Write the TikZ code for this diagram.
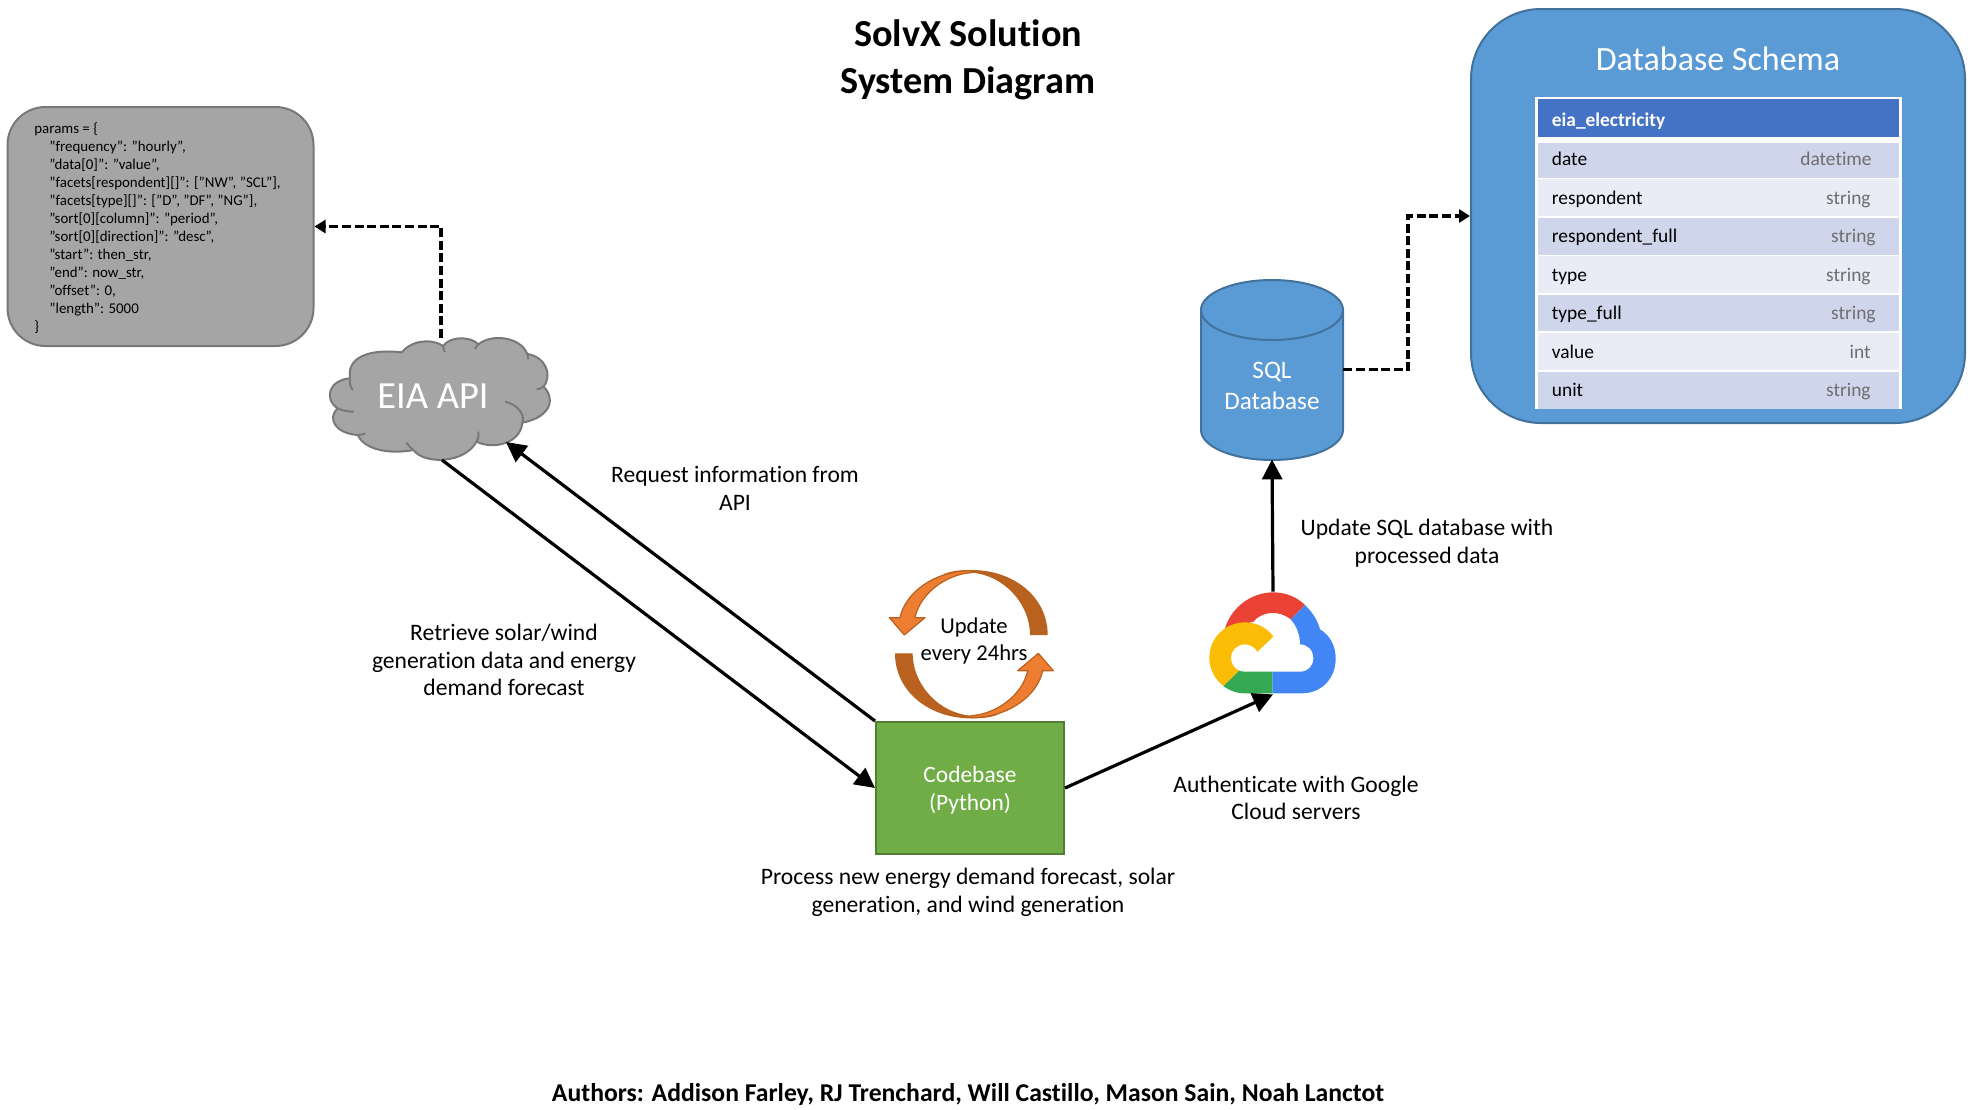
\documentclass[tikz,border=0pt]{standalone}
\usepackage{fontspec}
\setmainfont{Carlito}[Ligatures=NoCommon]
\usetikzlibrary{arrows.meta}
\definecolor{blueA}{HTML}{5B9BD5}
\definecolor{blueB}{HTML}{41719C}
\definecolor{hdr}{HTML}{4472C4}
\definecolor{rowA}{HTML}{CFD5EA}
\definecolor{rowB}{HTML}{E9EBF5}
\definecolor{grayA}{HTML}{A5A5A5}
\definecolor{grayB}{HTML}{787878}
\definecolor{greenA}{HTML}{70AD47}
\definecolor{greenB}{HTML}{507E32}
\definecolor{orA}{HTML}{ED7D31}
\definecolor{orB}{HTML}{B9611F}
\definecolor{typeg}{HTML}{6E6E6E}
\definecolor{redG}{HTML}{EA4335}
\definecolor{blueG}{HTML}{4285F4}
\definecolor{greenG}{HTML}{34A853}
\definecolor{yellowG}{HTML}{FBBC05}
\tikzset{
  lbl/.style={align=center,inner sep=0pt,font=\fontsize{11.8}{13.85}\selectfont},
  flow/.style={line width=1.6pt,-{Triangle[length=10pt,width=10pt]}},
  dflow/.style={line width=1.6pt,dash pattern=on 4.5pt off 1.8pt,-{Triangle[length=5.5pt,width=6.5pt]}},
  rowbox/.style={anchor=north west,inner sep=0pt,minimum width=180.5pt},
  fname/.style={anchor=base west,inner sep=0pt,font=\fontsize{9.7}{11}\selectfont},
  ftype/.style={anchor=base east,inner sep=0pt,text=typeg,font=\fontsize{9.7}{11}\selectfont},
}
\begin{document}
\begin{tikzpicture}[x=0.5pt,y=-0.5pt]
\path[use as bounding box] (0,0) rectangle (1976,1109);
% title
\node[lbl,font=\bfseries\fontsize{19.1}{23.4}\selectfont] (title) at (968,60) {SolvX Solution\\System Diagram};
\node[lbl,font=\bfseries\fontsize{12.84}{14}\selectfont] (authors) at (968,1094) {Authors: Addison Farley, RJ Trenchard, Will Castillo, Mason Sain, Noah Lanctot};
% params
\node[draw=grayB,fill=grayA,line width=1pt,rounded corners=19pt,minimum width=153pt,minimum height=119.5pt,inner sep=0pt] (params) at (160.5,226.5) {};
\node[anchor=north west,inner sep=0pt,align=left,font=\fontsize{7.45}{9}\selectfont] (code) at (34,122) {params = \{\\
\hspace*{7.5pt}"frequency": "hourly",\\
\hspace*{7.5pt}"data[0]": "value",\\
\hspace*{7.5pt}"facets[respondent][]": ["NW", "SCL"],\\
\hspace*{7.5pt}"facets[type][]": ["D", "DF", "NG"],\\
\hspace*{7.5pt}"sort[0][column]": "period",\\
\hspace*{7.5pt}"sort[0][direction]": "desc",\\
\hspace*{7.5pt}"start": then\_str,\\
\hspace*{7.5pt}"end": now\_str,\\
\hspace*{7.5pt}"offset": 0,\\
\hspace*{7.5pt}"length": 5000\\
\}};
% EIA cloud
\begin{scope}[shift={(0,100)},x=0.19135pt,y=-0.16667pt]
\path[draw=grayB,fill=grayA,line width=1pt,line join=round]
 (915,835) .. controls (905,775) and (960,745) .. (1050,757)
 .. controls (1075,720) and (1130,715) .. (1158,738)
 .. controls (1175,708) and (1230,708) .. (1250,733)
 .. controls (1285,700) and (1360,710) .. (1378,762)
 .. controls (1425,770) and (1445,825) .. (1420,860)
 .. controls (1450,890) and (1445,950) .. (1365,968)
 .. controls (1360,1030) and (1290,1050) .. (1245,1025)
 .. controls (1215,1090) and (1110,1095) .. (1080,1050)
 .. controls (1010,1065) and (950,1045) .. (935,1005)
 .. controls (875,1000) and (855,955) .. (882,925)
 .. controls (845,895) and (860,840) .. (915,835) -- cycle;
\draw[grayB,line width=1pt]
 (915,835) .. controls (912,850) and (916,862) .. (922,870)
 (935,1005) .. controls (942,1005) and (950,1003) .. (955,1000)
 (882,925) .. controls (895,932) and (910,935) .. (925,935)
 (1080,1050) .. controls (1072,1042) and (1066,1035) .. (1062,1028)
 (1245,1025) .. controls (1250,1015) and (1252,1005) .. (1250,995)
 (1320,905) .. controls (1355,915) and (1372,945) .. (1365,968)
 (1420,860) .. controls (1414,865) and (1408,868) .. (1402,868)
 (1378,762) .. controls (1380,767) and (1381,772) .. (1380,778)
 (1250,733) .. controls (1246,738) and (1243,742) .. (1241,747)
 (1158,738) .. controls (1159,744) and (1160,750) .. (1162,756);
\end{scope}
\node[inner sep=0pt,text=white,font=\fontsize{19.2}{20}\selectfont] (eia) at (433,396) {EIA API};
\coordinate (eiaTop) at (441,338);
\coordinate (eiaOut) at (442,460);
\coordinate (eiaIn) at (506,442);
% codebase
\node[draw=greenB,fill=greenA,line width=1pt,minimum width=94pt,minimum height=66pt,inner sep=0pt] (cb) at (970,788) {};
\node[lbl,text=white,font=\fontsize{11.7}{13.85}\selectfont] (cbtxt) at (970,790.5) {Codebase\\(Python)};
% swirl arrows
\begin{scope}[shift={(860,550)},x=0.16667pt,y=-0.16667pt]
\foreach \r in {0,180}{
\begin{scope}[rotate around={\r:(334,282.5)}]
\fill[orB] (563,255) .. controls (563,140) and (460,60) .. (335,60) .. controls (300,60) and (280,62) .. (250,72) .. controls (280,68) and (310,66) .. (335,68) .. controls (430,75) and (510,160) .. (510,255) -- cycle;
\path[fill=orA,draw=orB,line width=.6pt,line join=round] (335,62) .. controls (220,62) and (135,130) .. (120,203) -- (88,203) -- (133,255) -- (195,203) -- (165,203) .. controls (180,130) and (260,72) .. (335,68) -- cycle;
\end{scope}}
\end{scope}
\node[lbl,font=\fontsize{11.3}{13.6}\selectfont] (upd) at (974,641) {Update\\every 24hrs};
% SQL
\node[minimum width=71pt,minimum height=89.5pt,inner sep=0pt] (sql) at (1272,369.5) {};
\path[draw=blueB,fill=blueA,line width=1pt] (1201,310) -- (1201,430) arc[x radius=71,y radius=30,start angle=180,end angle=0] -- (1343,310) -- cycle;
\path[draw=blueB,fill=blueA,line width=1pt] (1201,310) arc[x radius=71,y radius=30,start angle=180,end angle=-180];
\node[lbl,text=white,font=\fontsize{12.6}{15.7}\selectfont] (sqltxt) at (1272,386) {SQL\\Database};
% google cloud
\node[minimum width=63pt,minimum height=51pt,inner sep=0pt] (gcp) at (1273,643) {};
\begin{scope}[shift={(860,550)},x=0.16667pt,y=-0.16667pt]
\fill[white] (1113,323) -- (1180,215) -- (1240,190) -- (1292,208) -- (1320,283) -- (1360,325) -- (1320,365) -- (1137,365) -- cycle;
\fill[redG] (1095,235) .. controls (1115,170) and (1175,127) .. (1240,127) .. controls (1275,127) and (1310,140) .. (1335,165) -- (1292,208) .. controls (1255,178) and (1205,185) .. (1180,215) -- cycle;
\fill[blueG] (1335,165) .. controls (1358,187) and (1373,212) .. (1380,238) .. controls (1410,256) and (1427,288) .. (1427,325) .. controls (1427,385) and (1385,430) .. (1325,430) -- (1237,430) -- (1237,365) -- (1320,365) .. controls (1345,365) and (1360,347) .. (1360,325) .. controls (1360,300) and (1343,283) .. (1320,283) .. controls (1320,255) and (1310,228) .. (1292,208) -- cycle;
\fill[greenG] (1237,365) -- (1237,430) -- (1155,430) .. controls (1130,430) and (1108,422) .. (1090,408) -- (1137,362) .. controls (1143,364) and (1150,365) .. (1155,365) -- cycle;
\fill[yellowG] (1090,408) .. controls (1065,388) and (1048,358) .. (1048,323) .. controls (1048,265) and (1095,217) .. (1155,217) .. controls (1190,217) and (1222,234) .. (1240,260) -- (1192,305) .. controls (1185,292) and (1170,283) .. (1155,283) .. controls (1132,283) and (1113,300) .. (1113,323) .. controls (1113,340) and (1122,355) .. (1137,362) -- cycle;
\end{scope}
% Schema
\node[draw=blueB,fill=blueA,line width=1pt,rounded corners=35pt,minimum width=247pt,minimum height=207pt,inner sep=0pt] (schema) at (1718,216) {};
\node[inner sep=0pt,text=white,font=\fontsize{17}{18}\selectfont] (schematitle) at (1718,59) {Database Schema};
\node[fill=white,inner sep=0pt,minimum width=183.5pt,minimum height=156pt,anchor=north west] (tbl) at (1535,97) {};
\node[rowbox,fill=hdr,minimum height=19pt] (rh) at (1537.5,99) {};
\node[rowbox,fill=rowA,minimum height=17.2pt] (r1) at (1537.5,142.7) {};
\node[rowbox,fill=rowB,minimum height=18.5pt] (r2) at (1537.5,179) {};
\node[rowbox,fill=rowA,minimum height=18.2pt] (r3) at (1537.5,217.7) {};
\node[rowbox,fill=rowB,minimum height=18.3pt] (r4) at (1537.5,256) {};
\node[rowbox,fill=rowA,minimum height=18pt] (r5) at (1537.5,295) {};
\node[rowbox,fill=rowB,minimum height=18.3pt] (r6) at (1537.5,333) {};
\node[rowbox,fill=rowA,minimum height=18.2pt] (r7) at (1537.5,371.7) {};
\node[fname,text=white,font=\bfseries\fontsize{9.7}{11}\selectfont] (th) at (1551.5,126) {eia\_electricity};
\node[fname] (n1) at (1551.5,165) {date};
\node[fname] (n2) at (1551.5,204) {respondent};
\node[fname] (n3) at (1551.5,242) {respondent\_full};
\node[fname] (n4) at (1551.5,281) {type};
\node[fname] (n5) at (1551.5,319) {type\_full};
\node[fname] (n6) at (1551.5,358.5) {value};
\node[fname] (n7) at (1551.5,396) {unit};
\node[ftype] (t1) at (1872,165) {datetime};
\node[ftype] (t2) at (1871,204) {string};
\node[ftype] (t3) at (1876,242) {string};
\node[ftype] (t4) at (1871,281) {string};
\node[ftype] (t5) at (1876,319) {string};
\node[ftype] (t6) at (1871,358.5) {int};
\node[ftype] (t7) at (1871,396) {string};
% labels
\node[lbl] (l1) at (735,488.5) {Request information from\\API};
\node[lbl] (l2) at (504,660) {Retrieve solar/wind\\generation data and energy\\demand forecast};
\node[lbl] (l3) at (1427,543.5) {Update SQL database with\\processed data};
\node[lbl] (l4) at (1296,798) {Authenticate with Google\\Cloud servers};
\node[lbl] (l5) at (968,892.5) {Process new energy demand forecast, solar\\generation, and wind generation};
% connectors
\draw[flow] (eiaOut) -- (cb.west);
\draw[flow] (cb.north west) -- (eiaIn);
\draw[flow] (cb.east) -- (gcp.south);
\draw[flow] (gcp.north) -- (sql.south);
\draw[dflow] (eiaTop) |- (params.east);
\draw[dflow] (sql.east) -- (1408,369.5) |- (schema.west);
\end{tikzpicture}
\end{document}
